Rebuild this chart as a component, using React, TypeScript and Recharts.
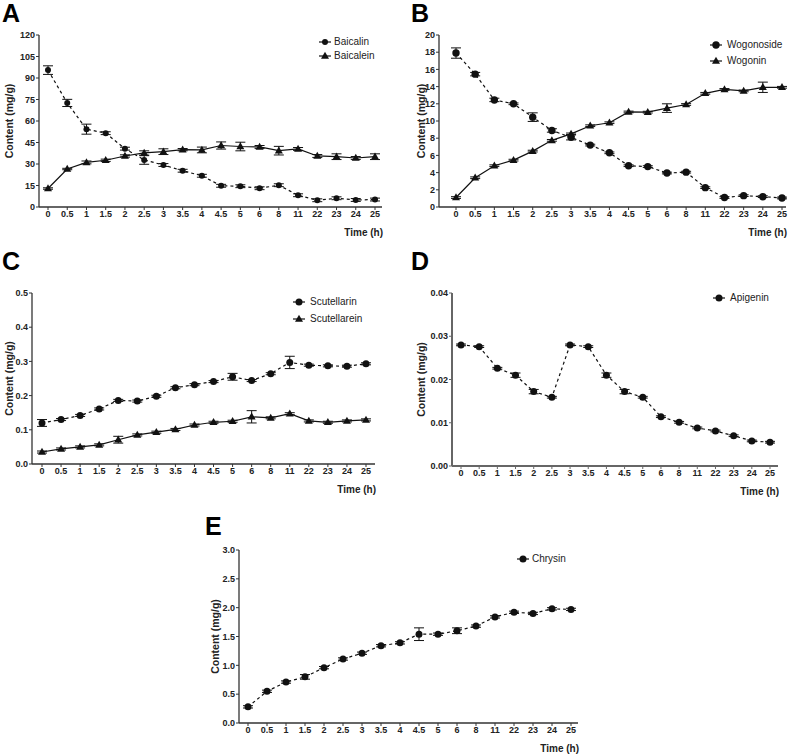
import { LineChart, Line, XAxis, YAxis, ErrorBar, Label } from "recharts"

const times = ["0", "0.5", "1", "1.5", "2", "2.5", "3", "3.5", "4", "4.5", "5", "6", "8", "11", "22", "23", "24", "25"]

// panel A
const baicalin = [95.5, 72.6, 54.3, 51.5, 40.7, 32.8, 29.3, 25.3, 21.8, 14.8, 14.5, 13.1, 15.2, 8.2, 4.7, 6.1, 4.9, 5.2]
const baicalinErr = [3, 2.5, 3.5, 1, 1, 3, 1, 1, 1, 1, 1, 1, 1, 1, 1, 1, 1, 1]
const baicalein = [12.9, 26.5, 31.1, 32.6, 35.6, 37.7, 38.6, 40.0, 39.8, 42.9, 42.2, 41.9, 39.3, 40.5, 35.6, 35.1, 34.2, 35.1]
const baicaleinErr = [0.5, 0.5, 1, 0.8, 0.8, 1.5, 2, 0.8, 2, 2.5, 3, 1, 3, 1, 1, 2, 1, 2]

// panel B
const wogonoside = [17.9, 15.45, 12.45, 12.0, 10.45, 8.9, 8.1, 7.2, 6.3, 4.8, 4.7, 3.95, 4.05, 2.25, 1.1, 1.32, 1.2, 1.05]
const wogonosideErr = [0.6, 0.2, 0.2, 0.1, 0.5, 0.2, 0.3, 0.1, 0.1, 0.1, 0.1, 0.1, 0.1, 0.1, 0.1, 0.1, 0.1, 0.1]
const wogonin = [1.1, 3.4, 4.8, 5.45, 6.5, 7.75, 8.5, 9.45, 9.8, 11.05, 11.03, 11.5, 11.92, 13.22, 13.67, 13.5, 13.92, 13.92]
const wogoninErr = [0.1, 0.1, 0.1, 0.1, 0.1, 0.1, 0.1, 0.1, 0.1, 0.1, 0.1, 0.5, 0.1, 0.1, 0.1, 0.1, 0.6, 0.1]

// panel C
const scutellarin = [0.12, 0.13, 0.142, 0.161, 0.186, 0.184, 0.198, 0.223, 0.232, 0.241, 0.255, 0.244, 0.264, 0.297, 0.289, 0.287, 0.286, 0.293]
const scutellarinErr = [0.01, 0.003, 0.003, 0.003, 0.003, 0.003, 0.003, 0.003, 0.003, 0.003, 0.01, 0.003, 0.003, 0.018, 0.003, 0.003, 0.003, 0.003]
const scutellarein = [0.035, 0.044, 0.05, 0.056, 0.071, 0.085, 0.093, 0.101, 0.114, 0.122, 0.125, 0.138, 0.135, 0.147, 0.126, 0.122, 0.126, 0.129]
const scutellareinErr = [0.003, 0.003, 0.003, 0.003, 0.01, 0.003, 0.003, 0.003, 0.003, 0.003, 0.003, 0.018, 0.003, 0.003, 0.003, 0.003, 0.003, 0.003]

// panel D
const apigenin = [0.028, 0.0276, 0.0226, 0.021, 0.0172, 0.0159, 0.028, 0.0276, 0.021, 0.0172, 0.0159, 0.0114, 0.0101, 0.0088, 0.0081, 0.007, 0.0058, 0.0055]
const apigeninErr = [0.0002, 0.0002, 0.0002, 0.0005, 0.0005, 0.0002, 0.0002, 0.0002, 0.0005, 0.0005, 0.0002, 0.0002, 0.0002, 0.0002, 0.0002, 0.0002, 0.0002, 0.0002]

// panel E
const chrysin = [0.28, 0.55, 0.71, 0.8, 0.96, 1.11, 1.21, 1.34, 1.39, 1.54, 1.54, 1.6, 1.68, 1.84, 1.92, 1.9, 1.98, 1.97]
const chrysinErr = [0.02, 0.02, 0.02, 0.04, 0.02, 0.02, 0.02, 0.02, 0.02, 0.11, 0.02, 0.05, 0.02, 0.02, 0.02, 0.02, 0.02, 0.02]

const ticksA = [0, 15, 30, 45, 60, 75, 90, 105, 120]
const ticksB = [0, 2, 4, 6, 8, 10, 12, 14, 16, 18, 20]
const ticksC = [0, 0.1, 0.2, 0.3, 0.4, 0.5]
const ticksD = [0, 0.01, 0.02, 0.03, 0.04]
const ticksE = [0, 0.5, 1.0, 1.5, 2.0, 2.5, 3.0]

const font = '"Liberation Sans", Arial, Helvetica, sans-serif'
const ink = "#111"

type Series = { name: string; key: string; values: number[]; err: number[]; shape: "circle" | "triangle"; dashed: boolean }

type PanelCfg = {
  letter: string
  letterPos: [number, number]
  x0: number; y0: number; x1: number; y1: number
  padL: number; padR: number
  yTicks: number[]
  digits: number
  labelX: number
  dotR: number
  axisColor: string
  axisWidth: number
  legend: { mx: number; tx: number; ys: number[] }
  series: Series[]
}

const panels: PanelCfg[] = [
  {
    letter: "A", letterPos: [2, 1], x0: 39, y0: 35, x1: 382, y1: 207, padL: 9, padR: 7,
    yTicks: ticksA, digits: 0, labelX: 9, dotR: 3, axisColor: "#333", axisWidth: 1.3,
    legend: { mx: 325, tx: 334, ys: [42, 56] },
    series: [
      { name: "Baicalin", key: "baicalin", values: baicalin, err: baicalinErr, shape: "circle", dashed: true },
      { name: "Baicalein", key: "baicalein", values: baicalein, err: baicaleinErr, shape: "triangle", dashed: false },
    ],
  },
  {
    letter: "B", letterPos: [411, 1], x0: 439, y0: 35, x1: 786, y1: 207, padL: 17, padR: 4,
    yTicks: ticksB, digits: 0, labelX: 421, dotR: 3.7, axisColor: "#333", axisWidth: 1.3,
    legend: { mx: 716, tx: 727, ys: [45, 61] },
    series: [
      { name: "Wogonoside", key: "wogonoside", values: wogonoside, err: wogonosideErr, shape: "circle", dashed: true },
      { name: "Wogonin", key: "wogonin", values: wogonin, err: wogoninErr, shape: "triangle", dashed: false },
    ],
  },
  {
    letter: "C", letterPos: [2, 249], x0: 32, y0: 293, x1: 375, y1: 464, padL: 10, padR: 9,
    yTicks: ticksC, digits: 1, labelX: 9, dotR: 3.5, axisColor: "#333", axisWidth: 1.3,
    legend: { mx: 299, tx: 310, ys: [302, 319] },
    series: [
      { name: "Scutellarin", key: "scutellarin", values: scutellarin, err: scutellarinErr, shape: "circle", dashed: true },
      { name: "Scutellarein", key: "scutellarein", values: scutellarein, err: scutellareinErr, shape: "triangle", dashed: false },
    ],
  },
  {
    letter: "D", letterPos: [411, 249], x0: 452, y0: 293, x1: 778, y1: 466, padL: 9, padR: 8,
    yTicks: ticksD, digits: 2, labelX: 421, dotR: 3.5, axisColor: "#666", axisWidth: 2,
    legend: { mx: 719, tx: 730, ys: [298] },
    series: [
      { name: "Apigenin", key: "apigenin", values: apigenin, err: apigeninErr, shape: "circle", dashed: true },
    ],
  },
  {
    letter: "E", letterPos: [205, 514], x0: 239, y0: 550, x1: 578, y1: 723, padL: 9, padR: 7,
    yTicks: ticksE, digits: 1, labelX: 215, dotR: 3.5, axisColor: "#333", axisWidth: 1.3,
    legend: { mx: 523, tx: 532, ys: [559] },
    series: [
      { name: "Chrysin", key: "chrysin", values: chrysin, err: chrysinErr, shape: "circle", dashed: true },
    ],
  },
]

function triangleDot(props: any) {
  const { cx, cy, index } = props
  if (cx == null || cy == null) return <g key={`t-${index}`} />
  return <path key={`t-${index}`} d={`M${cx},${cy - 4.2}L${cx + 4},${cy + 2.8}L${cx - 4},${cy + 2.8}Z`} fill={ink} />
}

function Marker({ shape, r }: { shape: string; r: number }) {
  return (
    <svg width={16} height={12} style={{ position: "absolute", left: 0, top: 0 }}>
      <line x1={2} y1={6} x2={14} y2={6} stroke={ink} strokeWidth={1.2} />
      {shape === "circle" ? (
        <circle cx={8} cy={6} r={r} fill={ink} />
      ) : (
        <path d="M8,1.8L12,8.8L4,8.8Z" fill={ink} />
      )}
    </svg>
  )
}

function Panel({ cfg }: { cfg: PanelCfg }) {
  const yW = 48, mt = 10, mr = 12, xh = 32
  const left = cfg.x0 - yW
  const top = cfg.y0 - mt
  const width = cfg.x1 - cfg.x0 + yW + mr
  const height = cfg.y1 - cfg.y0 + mt + xh
  const rows = times.map((t, i) => {
    const r: any = { t }
    cfg.series.forEach((s) => {
      r[s.key] = s.values[i]
      r[s.key + "Err"] = s.err[i]
    })
    return r
  })
  const yMax = cfg.yTicks[cfg.yTicks.length - 1]
  const tickStyle = { fontSize: 9, fontWeight: 700, fill: "#222", fontFamily: font }
  const lx = cfg.labelX - left
  const ly = (cfg.y0 + cfg.y1) / 2 - top

  return (
    <>
      <div style={{ position: "absolute", left: cfg.letterPos[0], top: cfg.letterPos[1], fontSize: 25, lineHeight: "25px", fontWeight: 700, fontFamily: font, color: "#000" }}>
        {cfg.letter}
      </div>
      <div style={{ position: "absolute", left, top }}>
        <LineChart width={width} height={height} data={rows} margin={{ top: mt, right: mr, bottom: 0, left: 0 }}>
          <XAxis
            dataKey="t"
            type="category"
            interval={0}
            padding={{ left: cfg.padL, right: cfg.padR }}
            height={xh}
            tickSize={3}
            tickMargin={1}
            tick={tickStyle}
            tickLine={{ stroke: cfg.axisColor, strokeWidth: 1 }}
            axisLine={{ stroke: cfg.axisColor, strokeWidth: cfg.axisWidth }}
          >
            <Label
              content={(p: any) => {
                const vb = p.viewBox || { x: 0, y: 0, width: 0 }
                return (
                  <text x={vb.x + vb.width + 1} y={vb.y + 29} textAnchor="end" fontSize={10} fontWeight={700} fontFamily={font} fill="#222">
                    Time (h)
                  </text>
                )
              }}
            />
          </XAxis>
          <YAxis
            type="number"
            domain={[0, yMax]}
            ticks={cfg.yTicks}
            interval={0}
            width={yW}
            tickSize={3}
            tickMargin={1}
            tick={tickStyle}
            tickFormatter={(v: number) => v.toFixed(cfg.digits)}
            tickLine={{ stroke: cfg.axisColor, strokeWidth: 1 }}
            axisLine={{ stroke: cfg.axisColor, strokeWidth: cfg.axisWidth }}
          >
            <Label
              content={() => (
                <text x={lx} y={ly} transform={`rotate(-90, ${lx}, ${ly})`} textAnchor="middle" dominantBaseline="central" fontSize={10.5} fontWeight={700} fontFamily={font} fill="#222">
                  Content (mg/g)
                </text>
              )}
            />
          </YAxis>
          {cfg.series.map((s) => (
            <Line
              key={s.key}
              type="linear"
              dataKey={s.key}
              stroke={ink}
              strokeWidth={1.2}
              strokeDasharray={s.dashed ? "3 3" : undefined}
              dot={s.shape === "circle" ? { r: cfg.dotR, fill: ink, stroke: ink, strokeWidth: 0 } : triangleDot}
              activeDot={false}
              isAnimationActive={false}
            >
              <ErrorBar dataKey={s.key + "Err"} direction="y" width={5} stroke={ink} strokeWidth={1} isAnimationActive={false} />
            </Line>
          ))}
        </LineChart>
      </div>
      {cfg.series.map((s, i) => (
        <div key={s.key}>
          <div style={{ position: "absolute", left: cfg.legend.mx - 8, top: cfg.legend.ys[i] - 6, width: 16, height: 12 }}>
            <Marker shape={s.shape} r={cfg.dotR} />
          </div>
          <div style={{ position: "absolute", left: cfg.legend.tx, top: cfg.legend.ys[i] - 6, fontSize: 10, lineHeight: "12px", fontFamily: font, color: "#222", whiteSpace: "nowrap" }}>
            {s.name}
          </div>
        </div>
      ))}
    </>
  )
}

export default function App() {
  return (
    <div style={{ position: "absolute", left: 0, top: 0, width: 794, height: 755, background: "#fff", overflow: "hidden" }}>
      {panels.map((p) => (
        <Panel key={p.letter} cfg={p} />
      ))}
    </div>
  )
}
